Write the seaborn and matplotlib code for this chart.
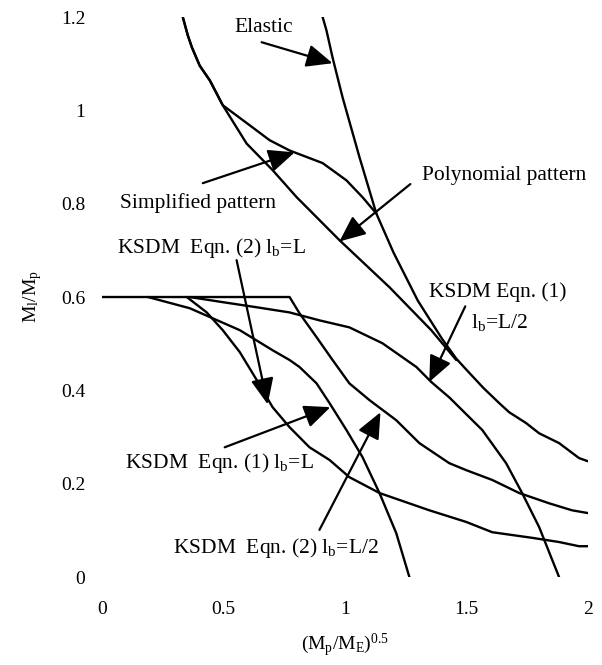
import matplotlib
matplotlib.use("Agg")
import matplotlib.pyplot as plt
import seaborn as sns

# ------------------------------------------------------------
# Curve data (x = (Mp/ME)^0.5, y = Ml/Mp)
# ------------------------------------------------------------

elastic_x = [0.908, 0.924, 0.949, 0.990, 1.060, 1.129, 1.200, 1.300, 1.400, 1.458,
             1.500, 1.570, 1.634, 1.676, 1.745, 1.799, 1.881, 1.963, 2.000]
elastic_y = [1.200, 1.171, 1.113, 1.028, 0.899, 0.779, 0.695, 0.592, 0.510, 0.468,
             0.444, 0.405, 0.373, 0.353, 0.330, 0.308, 0.287, 0.255, 0.248]

simplified_x = [0.333, 0.353, 0.370, 0.402, 0.444, 0.472, 0.497, 0.608, 0.690,
                0.772, 0.908, 1.006, 1.072, 1.129]
simplified_y = [1.199, 1.161, 1.135, 1.096, 1.064, 1.036, 1.011, 0.968, 0.936,
                0.914, 0.887, 0.850, 0.814, 0.779]

polynomial_x = [0.333, 0.353, 0.370, 0.402, 0.444, 0.472, 0.497, 0.595, 0.702,
                0.801, 0.977, 1.183, 1.355, 1.458]
polynomial_y = [1.199, 1.161, 1.135, 1.096, 1.064, 1.036, 1.011, 0.929, 0.872,
                0.814, 0.722, 0.621, 0.529, 0.465]

ksdm2_half_x = [0.000, 0.772, 0.813, 0.883, 0.949, 1.018, 1.101, 1.211, 1.306,
                1.429, 1.499, 1.606, 1.717, 1.840, 1.934, 2.000]
ksdm2_half_y = [0.600, 0.600, 0.565, 0.514, 0.465, 0.415, 0.379, 0.336, 0.287,
                0.244, 0.229, 0.208, 0.180, 0.158, 0.143, 0.137]

ksdm1_full_x = [0.189, 0.361, 0.567, 0.702, 0.772, 0.813, 0.883, 0.936, 1.006,
                1.072, 1.142, 1.211, 1.265]
ksdm1_full_y = [0.600, 0.576, 0.529, 0.486, 0.465, 0.450, 0.415, 0.373, 0.315,
                0.257, 0.180, 0.094, 0.000]

ksdm2_full_x = [0.349, 0.431, 0.497, 0.567, 0.637, 0.702, 0.772, 0.854, 0.936,
                1.018, 1.142, 1.347, 1.499, 1.606, 1.770, 1.881, 1.963, 2.000]
ksdm2_full_y = [0.600, 0.567, 0.529, 0.482, 0.422, 0.364, 0.321, 0.278, 0.251,
                0.214, 0.180, 0.143, 0.118, 0.096, 0.084, 0.075, 0.066, 0.066]

ksdm1_half_x = [0.361, 0.497, 0.637, 0.772, 0.895, 1.018, 1.154, 1.294, 1.355,
                1.429, 1.565, 1.663, 1.729, 1.799, 1.881]
ksdm1_half_y = [0.600, 0.589, 0.578, 0.567, 0.550, 0.535, 0.501, 0.450, 0.418,
                0.385, 0.315, 0.244, 0.180, 0.107, 0.000]

x_ticks = [0, 0.5, 1, 1.5, 2]
x_tick_labels = ["0", "0.5", "1", "1.5", "2"]
y_ticks = [0, 0.2, 0.4, 0.6, 0.8, 1.0, 1.2]
y_tick_labels = ["0", "0.2", "0.4", "0.6", "0.8", "1", "1.2"]

# ------------------------------------------------------------
# Style
# ------------------------------------------------------------

sns.set_theme(style="white")
plt.rcParams["font.family"] = ["Liberation Serif", "DejaVu Serif"]
plt.rcParams["mathtext.fontset"] = "custom"
plt.rcParams["mathtext.rm"] = "Liberation Serif"
for key in ["text.color", "axes.labelcolor", "xtick.color", "ytick.color"]:
    plt.rcParams[key] = "black"

fig = plt.figure(figsize=(6.02, 6.65), dpi=100)
ax = fig.add_axes([0.1694, 0.1323, 0.8073, 0.8421])

curves = [
    (elastic_x, elastic_y),
    (simplified_x, simplified_y),
    (polynomial_x, polynomial_y),
    (ksdm2_half_x, ksdm2_half_y),
    (ksdm1_full_x, ksdm1_full_y),
    (ksdm2_full_x, ksdm2_full_y),
    (ksdm1_half_x, ksdm1_half_y),
]
for cx, cy in curves:
    sns.lineplot(x=cx, y=cy, ax=ax, color="black", linewidth=1.7,
                 sort=False, estimator=None)

ax.set_xlim(0, 2)
ax.set_ylim(0, 1.2)
ax.set_xticks(x_ticks)
ax.set_xticklabels(x_tick_labels)
ax.set_yticks(y_ticks)
ax.set_yticklabels(y_tick_labels)
ax.tick_params(axis="x", length=0, pad=17, labelsize=14)
ax.tick_params(axis="y", length=0, pad=12, labelsize=14)
sns.despine(ax=ax, left=True, bottom=True)

ax.set_xlabel(r"$\mathregular{(M_p/M_E)^{0.5}}$", fontsize=14, labelpad=10)
ax.set_ylabel(r"$\mathregular{M_l/M_p}$", fontsize=14, labelpad=12)

# ------------------------------------------------------------
# Annotations: label text, then arrow (tail -> tip)
# ------------------------------------------------------------

arrow_style = dict(arrowstyle="-|>,head_length=0.8,head_width=0.35",
                   mutation_scale=20, color="black", lw=1.6, shrinkA=0, shrinkB=0)
text_kw = dict(fontsize=15.5, ha="center", va="center")

labels = [
    ("Elastic", (0.665, 1.178), (0.657, 1.146), (0.949, 1.101)),
    ("Simplified pattern", (0.394, 0.801), (0.415, 0.844), (0.793, 0.910)),
    ("Polynomial pattern", (1.655, 0.861), (1.269, 0.842), (0.977, 0.719)),
    (r"KSDM  Eqn. (2) $\mathregular{l_b}$=L", (0.452, 0.704), (0.554, 0.679), (0.682, 0.370)),
    ("KSDM Eqn. (1)", (1.630, 0.610), (1.495, 0.580), (1.347, 0.418)),
    (r"KSDM  Eqn. (1) $\mathregular{l_b}$=L", (0.485, 0.244), (0.505, 0.278), (0.940, 0.364)),
    (r"KSDM  Eqn. (2) $\mathregular{l_b}$=L/2", (0.715, 0.062), (0.895, 0.101), (1.146, 0.353)),
]
for text, pos, tail, tip in labels:
    ax.text(pos[0], pos[1], text, **text_kw)
    ax.annotate("", xy=tip, xytext=tail, arrowprops=arrow_style)

ax.text(1.634, 0.546, r"$\mathregular{l_b}$=L/2", **text_kw)

fig.savefig("out.png", dpi=100)
